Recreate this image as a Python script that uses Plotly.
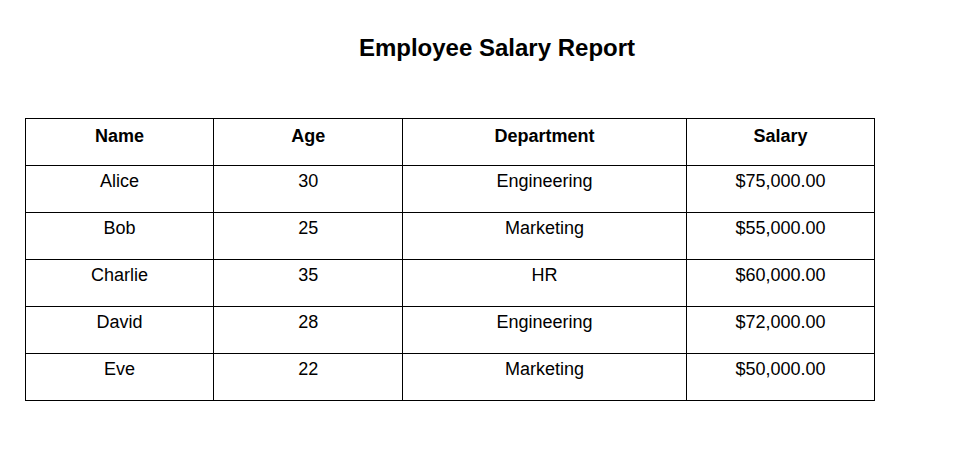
import plotly.graph_objects as go

headers = ["Name", "Age", "Department", "Salary"]
names = ["Alice", "Bob", "Charlie", "David", "Eve"]
ages = [30, 25, 35, 28, 22]
departments = ["Engineering", "Marketing", "HR", "Engineering", "Marketing"]
salaries = [75000, 55000, 60000, 72000, 50000]

salary_text = [f"${s:,.2f}" for s in salaries]

fig = go.Figure(go.Table(
    columnwidth=[2, 2, 3, 2],
    header=dict(values=[f"<b>{h}</b>" for h in headers],
                fill_color="white", line_color="black", align="center",
                font=dict(family="Liberation Sans, Arial", size=18, color="black"),
                height=47),
    cells=dict(values=[names, ages, departments, salary_text],
               fill_color="white", line_color="black", align="center",
               font=dict(family="Liberation Sans, Arial", size=18, color="black"),
               height=47),
))
fig.update_layout(
    width=957, height=467,
    margin=dict(l=17, r=90, t=110, b=40),
    title=dict(text="<b>Employee Salary Report</b>", x=489/957, xanchor="center",
               y=1 - 40/467, yanchor="middle",
               font=dict(family="Liberation Sans, Arial", size=24, color="black")),
    paper_bgcolor="white",
)
fig.write_html("out.html")
